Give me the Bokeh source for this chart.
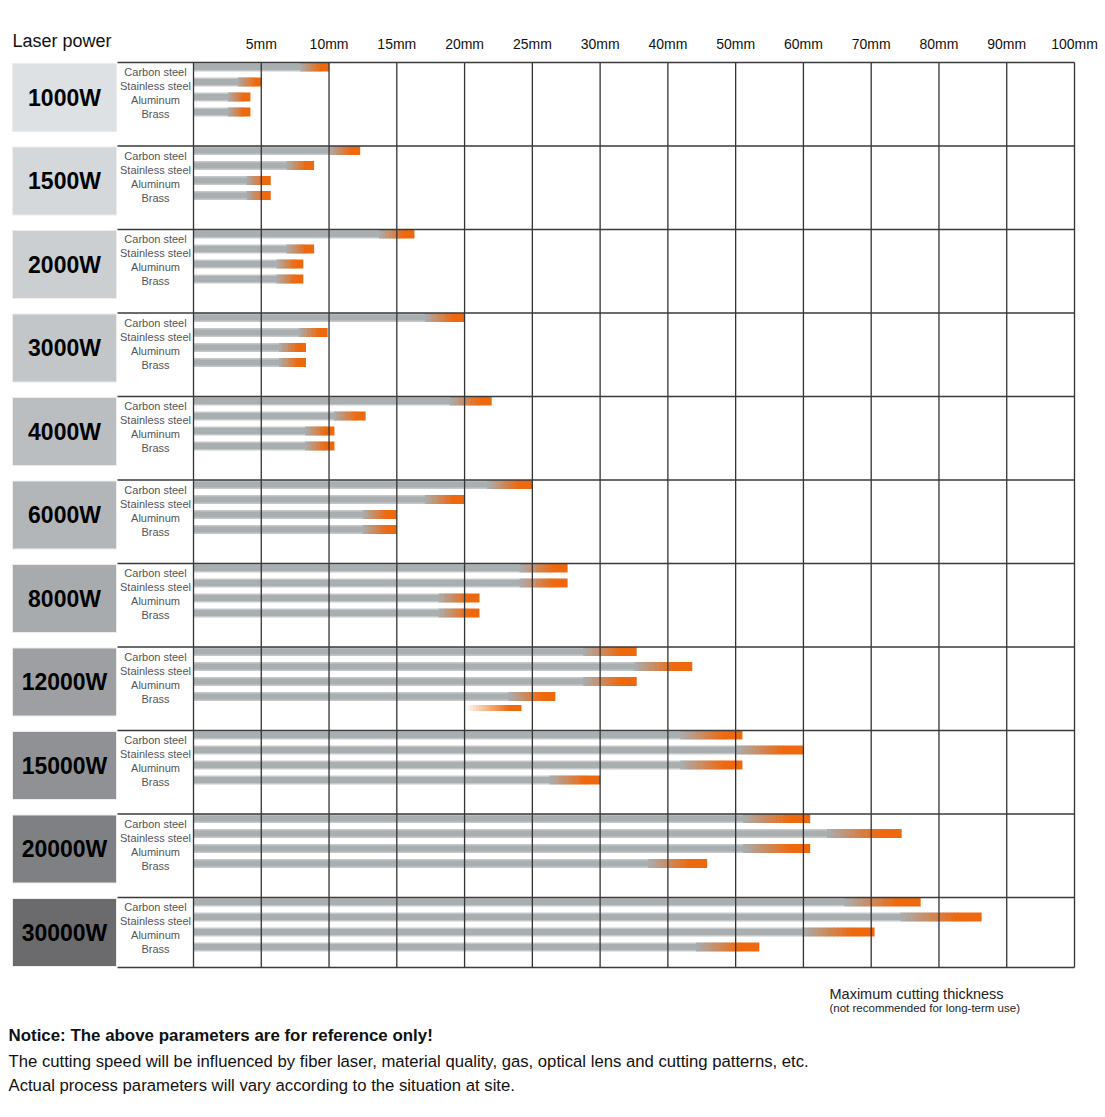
import numpy as np
from bokeh.plotting import figure
from bokeh.models import Range1d, ColumnDataSource
from bokeh.core.properties import value
from bokeh.embed import file_html
from bokeh.resources import INLINE

# ---------------- data ----------------
powers = ["1000W", "1500W", "2000W", "3000W", "4000W", "6000W",
          "8000W", "12000W", "15000W", "20000W", "30000W"]
materials = ["Carbon steel", "Stainless steel", "Aluminum", "Brass"]
# maximum cutting thickness in mm
carbon_steel = [10, 12.3, 16.3, 20, 22, 25, 27.6, 35.4, 51, 61, 77.3]
stainless_steel = [5, 8.9, 8.9, 9.9, 12.7, 20, 27.6, 43.6, 60, 74.5, 86.3]
aluminum = [4.2, 5.7, 8.1, 8.3, 10.4, 15, 21.1, 35.4, 51, 61, 70.5]
brass = [4.2, 5.7, 8.1, 8.3, 10.4, 15, 21.1, 26.7, 30, 45.8, 53.5]
# faded duplicate brass bar visible in the 12000W row
extra_row = "12000W"
extra_start_mm = 20
extra_end_mm = 24.2

tick_mm = [0, 5, 10, 15, 20, 25, 30, 40, 50, 60, 70, 80, 90, 100]
tick_labels = ["", "5mm", "10mm", "15mm", "20mm", "25mm", "30mm", "40mm",
               "50mm", "60mm", "70mm", "80mm", "90mm", "100mm"]
box_colors = ["#dde1e4", "#d4d8db", "#cbcfd2", "#c3c6c9", "#bbbec1", "#b3b6b9",
              "#a8abae", "#9d9fa2", "#8f9194", "#7e8083", "#6b6b6d"]

# ---------------- layout ----------------
W, H = 1105, 1117
X0, X1 = 193, 1074
UNIT = (X1 - X0) / (len(tick_mm) - 1)
ROW0, ROW_STEP, GRID_BOTTOM = 62, 83.5, 967
BAR_OFF = [4.5, 19.5, 34.5, 49.5]
LAB_OFF = [9.5, 23.5, 37.5, 51.5]
FONT = "Liberation Sans"


def px2x(px):
    return (px - X0) / UNIT


def mm2x(mm):
    return float(np.interp(mm, tick_mm, np.arange(len(tick_mm))))


row_tops = [ROW0 + i * ROW_STEP for i in range(len(powers))]

p = figure(width=W, height=H, x_range=Range1d(px2x(0), px2x(W)),
           y_range=Range1d(H, 0), output_backend="svg", toolbar_location=None,
           min_border=0)
p.axis.visible = False
p.grid.visible = False
p.outline_line_color = None
p.background_fill_color = "white"
p.border_fill_color = "white"

# power boxes
p.quad(left=px2x(12), right=px2x(116),
       top=[t + 1 for t in row_tops], bottom=[t + 69 for t in row_tops],
       fill_color=box_colors, line_color="#ececec", line_width=1)
p.text(x=px2x(64), y=[t + 35 for t in row_tops], text=powers,
       text_font=value(FONT), text_font_style="bold", text_font_size="23px",
       text_align="center", text_baseline="middle", text_color="#000000")

# material labels
lx, ly, lt = [], [], []
for t in row_tops:
    for j, m in enumerate(materials):
        lx.append(px2x(155))
        ly.append(t + LAB_OFF[j])
        lt.append(m)
p.text(x=lx, y=ly, text=lt, text_font=value(FONT), text_font_size="11px",
       text_align="center", text_baseline="middle", text_color="#555555")

# bars with gradient end
gray = (168, 173, 176)
orange = (238, 104, 14)


def hexc(c):
    return "#%02x%02x%02x" % tuple(int(round(v)) for v in c)


def lerp(a, b, t):
    return tuple(a[i] + (b[i] - a[i]) * t for i in range(3))


outer = dict(left=[], right=[], top=[], bottom=[])
inner = dict(left=[], right=[], top=[], bottom=[])
sl = dict(left=[], right=[], top=[], bottom=[], color=[])
NS = 16
for i, pw in enumerate(powers):
    vals = [carbon_steel[i], stainless_steel[i], aluminum[i], brass[i]]
    for j, mm in enumerate(vals):
        yc = row_tops[i] + BAR_OFF[j]
        end_px = X0 + mm2x(mm) * UNIT
        L = end_px - X0
        zone = 18 + 0.08 * L
        solid = zone * 0.3
        fs = end_px - zone
        fe = end_px - solid
        outer["left"].append(0); outer["right"].append(px2x(fs + 1))
        outer["top"].append(yc - 4.5); outer["bottom"].append(yc + 4.5)
        inner["left"].append(0); inner["right"].append(px2x(fs + 1))
        inner["top"].append(yc - 3); inner["bottom"].append(yc + 3)
        for k in range(NS):
            a = fs + (fe - fs) * k / NS
            b = fs + (fe - fs) * (k + 1) / NS + 0.6
            tt = (k + 0.5) / NS
            sl["left"].append(px2x(a)); sl["right"].append(px2x(b))
            sl["top"].append(yc - 4.5); sl["bottom"].append(yc + 4.5)
            sl["color"].append(hexc(lerp(gray, orange, tt)))
        sl["left"].append(px2x(fe)); sl["right"].append(px2x(end_px))
        sl["top"].append(yc - 4.5); sl["bottom"].append(yc + 4.5)
        sl["color"].append(hexc(orange))

# extra faded bar (white -> orange)
ei = powers.index(extra_row)
yc = row_tops[ei] + 61
s_px = X0 + mm2x(extra_start_mm) * UNIT
e_px = X0 + mm2x(extra_end_mm) * UNIT
fe = e_px - 12
for k in range(NS):
    a = s_px + (fe - s_px) * k / NS
    b = s_px + (fe - s_px) * (k + 1) / NS + 0.6
    tt = (k + 0.5) / NS
    sl["left"].append(px2x(a)); sl["right"].append(px2x(b))
    sl["top"].append(yc - 3); sl["bottom"].append(yc + 3)
    sl["color"].append(hexc(lerp((255, 255, 255), orange, tt)))
sl["left"].append(px2x(fe)); sl["right"].append(px2x(e_px))
sl["top"].append(yc - 3); sl["bottom"].append(yc + 3)
sl["color"].append(hexc(orange))

p.quad(source=ColumnDataSource(outer), left="left", right="right", top="top",
       bottom="bottom", fill_color="#c4c8ca", line_color=None)
p.quad(source=ColumnDataSource(inner), left="left", right="right", top="top",
       bottom="bottom", fill_color="#a9aeb1", line_color=None)
p.quad(source=ColumnDataSource(sl), left="left", right="right", top="top",
       bottom="bottom", fill_color="color", line_color=None)

# grid
gx = list(range(len(tick_mm)))
p.segment(x0=gx, y0=ROW0, x1=gx, y1=GRID_BOTTOM, line_color="#333333",
          line_width=1.3)
hy = row_tops + [GRID_BOTTOM]
p.segment(x0=px2x(117), y0=hy, x1=len(tick_mm) - 1, y1=hy,
          line_color="#3a3a3a", line_width=1.5)

# tick labels
p.text(x=gx[1:], y=43, text=tick_labels[1:], text_font=value(FONT),
       text_font_size="14px", text_align="center", text_baseline="middle",
       text_color="#111111")
p.text(x=[px2x(12)], y=[40], text=["Laser power"], text_font=value(FONT),
       text_font_size="18px", text_align="left", text_baseline="middle",
       text_color="#111111")

# footer texts
p.text(x=[px2x(829)], y=[993], text=["Maximum cutting thickness"],
       text_font=value(FONT), text_font_size="14.5px", text_align="left",
       text_baseline="middle", text_color="#222222")
p.text(x=[px2x(829)], y=[1007], text=["(not recommended for long-term use)"],
       text_font=value(FONT), text_font_size="11.5px", text_align="left",
       text_baseline="middle", text_color="#222222")
p.text(x=[px2x(8)], y=[1035],
       text=["Notice: The above parameters are for reference only!"],
       text_font=value(FONT), text_font_style="bold",
       text_font_size="16.9px", text_align="left", text_baseline="middle",
       text_color="#111111")
p.text(x=[px2x(8), px2x(8)], y=[1061, 1085],
       text=["The cutting speed will be influenced by fiber laser, material quality, gas, optical lens and cutting patterns, etc.",
             "Actual process parameters will vary according to the situation at site."],
       text_font=value(FONT), text_font_size="16.7px",
       text_align="left", text_baseline="middle", text_color="#111111")

open("out.html", "w").write(file_html(p, INLINE))
